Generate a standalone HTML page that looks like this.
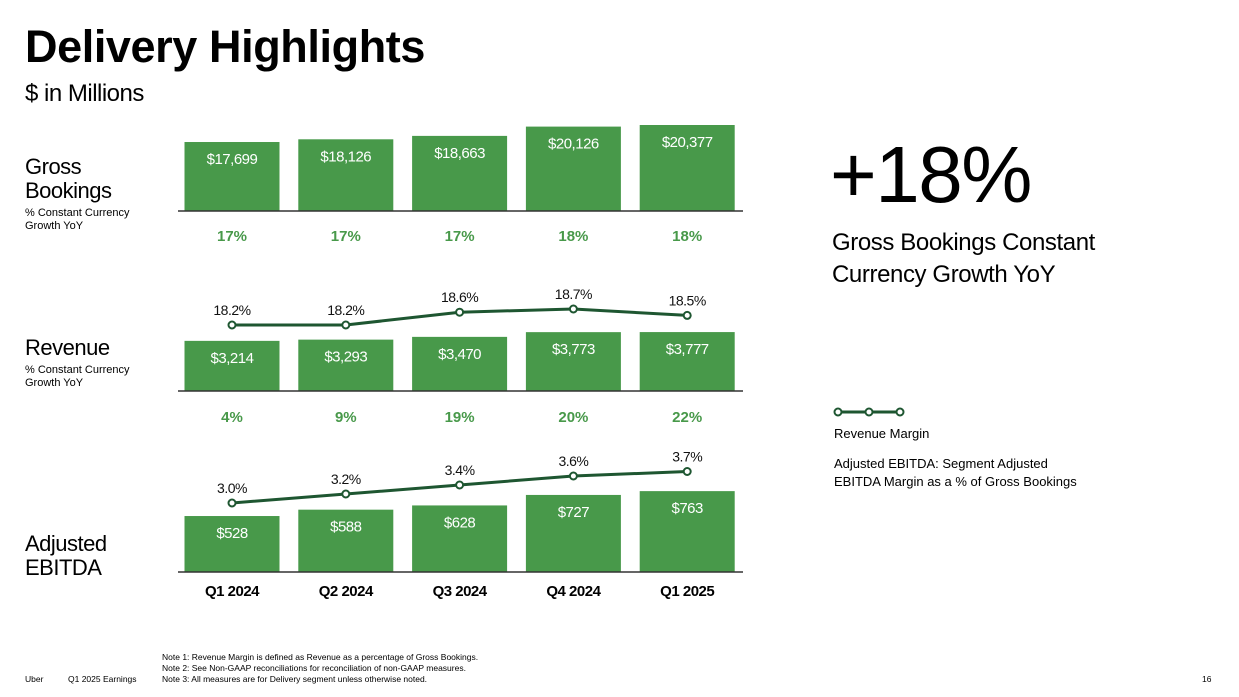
<!DOCTYPE html>
<html><head><meta charset="utf-8"><style>
body{margin:0;background:#fff;width:1239px;height:697px;overflow:hidden;font-family:"Liberation Sans",sans-serif;}
svg{display:block}
</style></head><body>
<svg id="c" width="1239" height="697" viewBox="0 0 1239 697" font-family="Liberation Sans, sans-serif">
<text x="25" y="62" font-size="45" font-weight="bold" fill="#000" letter-spacing="-0.4">Delivery Highlights</text>
<text x="25" y="101" font-size="24" fill="#000" letter-spacing="-0.5">$ in Millions</text>
<g>
<text x="25" y="174" font-size="22" letter-spacing="-0.5">Gross</text>
<text x="25" y="198" font-size="22" letter-spacing="-0.5">Bookings</text>
<text x="25" y="216" font-size="11">% Constant Currency</text>
<text x="25" y="229" font-size="11">Growth YoY</text>
<text x="25" y="355" font-size="22" letter-spacing="-0.5">Revenue</text>
<text x="25" y="373" font-size="11">% Constant Currency</text>
<text x="25" y="386" font-size="11">Growth YoY</text>
<text x="25" y="551" font-size="22" letter-spacing="-0.5">Adjusted</text>
<text x="25" y="575" font-size="22" letter-spacing="-0.5">EBITDA</text>
</g>
<text x="830" y="202" font-size="80" letter-spacing="-1.5">+18%</text>
<text x="832" y="250" font-size="24" letter-spacing="-0.4">Gross Bookings Constant</text>
<text x="832" y="282" font-size="24" letter-spacing="-0.4">Currency Growth YoY</text>
<g>
<line x1="837" y1="412" x2="901" y2="412" stroke="#1e5631" stroke-width="3"/>
<circle cx="838" cy="412" r="3.5" fill="#fff" stroke="#1e5631" stroke-width="2"/>
<circle cx="869" cy="412" r="3.5" fill="#fff" stroke="#1e5631" stroke-width="2"/>
<circle cx="900" cy="412" r="3.5" fill="#fff" stroke="#1e5631" stroke-width="2"/>
<text x="834" y="438" font-size="13">Revenue Margin</text>
<text x="834" y="468" font-size="13">Adjusted EBITDA: Segment Adjusted</text>
<text x="834" y="486" font-size="13">EBITDA Margin as a % of Gross Bookings</text>
</g>
<g font-size="8.5">
<text x="25" y="682">Uber</text><text x="68" y="682">Q1 2025 Earnings</text>
<text x="162" y="660">Note 1: Revenue Margin is defined as Revenue as a percentage of Gross Bookings.</text>
<text x="162" y="671">Note 2: See Non-GAAP reconciliations for reconciliation of non-GAAP measures.</text>
<text x="162" y="682">Note 3: All measures are for Delivery segment unless otherwise noted.</text>
<text x="1202" y="682">16</text>
</g>
<g id="plot"></g>
</svg>
<script>
const quarters=["Q1 2024","Q2 2024","Q3 2024","Q4 2024","Q1 2025"];
const grossBookings=[17699,18126,18663,20126,20377];
const gbGrowth=["17%","17%","17%","18%","18%"];
const revenue=[3214,3293,3470,3773,3777];
const revGrowth=["4%","9%","19%","20%","22%"];
const revMargin=[18.2,18.2,18.6,18.7,18.5];
const ebitda=[528,588,628,727,763];
const ebitdaMargin=[3.0,3.2,3.4,3.6,3.7];

const NS="http://www.w3.org/2000/svg";
const plot=document.getElementById('plot');
function mk(t,a,txt){const e=document.createElementNS(NS,t);for(const k in a)e.setAttribute(k,a[k]);if(txt!==undefined)e.textContent=txt;plot.appendChild(e);return e;}
const cx=i=>232+i*113.8;
const BW=95;
const gbH=v=>-43.4+0.00635*v;
const revH=v=>0.0156*v;
const ebH=v=>0.106*v;
const rmY=v=>325-(v-18.2)*32;
const emY=v=>503-(v-3.0)*45;
function bars(vals,hf,base,name,fs){
  vals.forEach((v,i)=>{
    const h=hf(v);
    const r=mk('rect',{x:cx(i)-BW/2,y:base-h,width:BW,height:h,fill:'#48994a'});
    
    
    const t=mk('text',{x:cx(i),y:base-h+22,'text-anchor':'middle','font-size':fs,fill:'#fff','letter-spacing':'-0.5'},'$'+v.toLocaleString('en-US'));
    
    
  });
  const l=mk('line',{x1:178,x2:743,y1:base,y2:base,stroke:'#333','stroke-width':1.5});
  
  
}
function growth(vals,y,name){
  vals.forEach((v,i)=>{const t=mk('text',{x:cx(i),y:y,'text-anchor':'middle','font-size':15,'font-weight':'bold',fill:'#48994a'},v);
  
  });
}
function line(vals,yf,name){
  const p=mk('polyline',{points:vals.map((v,i)=>cx(i)+','+yf(v)).join(' '),fill:'none',stroke:'#1e5631','stroke-width':3});
  
  
  vals.forEach((v,i)=>{
    const c=mk('circle',{cx:cx(i),cy:yf(v),r:3.5,fill:'#fff',stroke:'#1e5631','stroke-width':2});
    
    
    const t=mk('text',{x:cx(i),y:yf(v)-10,'text-anchor':'middle','font-size':14,fill:'#111','letter-spacing':'-0.5'},v.toFixed(1)+'%');
    
    
  });
}
bars(grossBookings,gbH,211,'gross-bookings',15);
growth(gbGrowth,241,'gb-growth');
bars(revenue,revH,391,'revenue',15);
growth(revGrowth,422,'rev-growth');
line(revMargin,rmY,'revenue-margin');
bars(ebitda,ebH,572,'ebitda',15);
line(ebitdaMargin,emY,'ebitda-margin');
quarters.forEach((q,i)=>{const t=mk('text',{x:cx(i),y:596,'text-anchor':'middle','font-size':15,'font-weight':'bold',fill:'#000','letter-spacing':'-0.5'},q);

});
</script>
</body></html>
